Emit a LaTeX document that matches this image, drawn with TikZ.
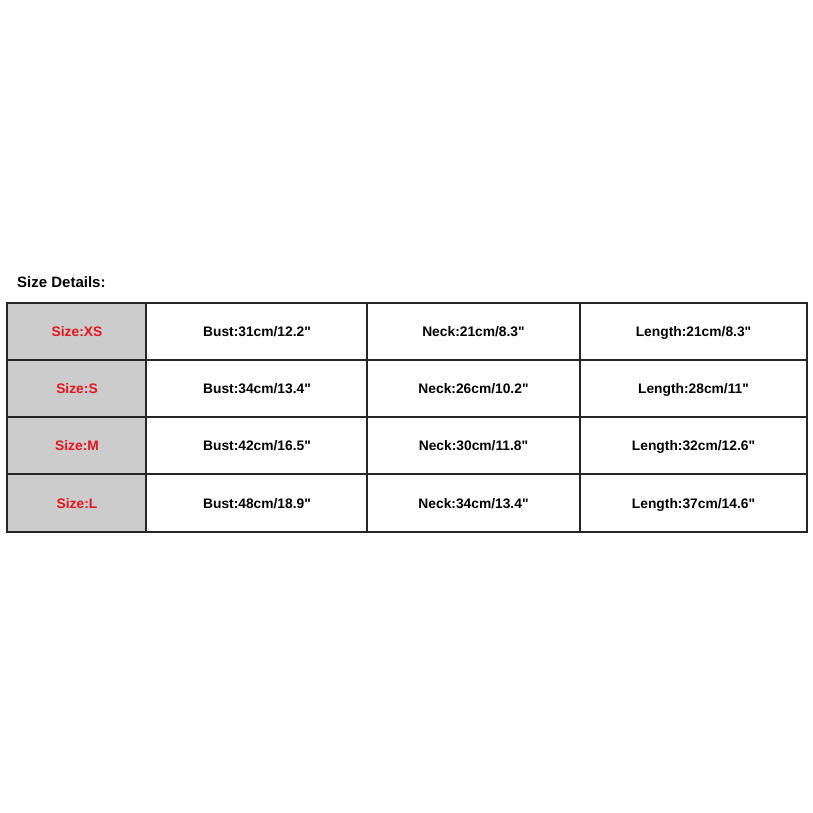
\documentclass[tikz,border=0pt]{standalone}
\usepackage{fontspec}
\setmainfont{Liberation Sans}
\definecolor{sizered}{HTML}{E8141C}
\definecolor{cellgray}{HTML}{CCCCCC}
\newcommand{\qd}{\textquotedbl}
\begin{document}
\begin{tikzpicture}[x=1pt,y=-1pt,
  cell/.style={font=\fontsize{13.8}{14}\selectfont\bfseries, text=black, inner sep=0pt, anchor=base},
  sizecell/.style={font=\fontsize{13.8}{14}\selectfont\bfseries, text=sizered, inner sep=0pt, anchor=base},
  grid/.style={draw=black!85, line width=1.1pt},
  frame/.style={draw=black!85, line width=2.2pt}]
\useasboundingbox (0,0) rectangle (813,813);
\fill[white] (0,0) rectangle (813,813);
\node[anchor=base west, font=\fontsize{15}{16}\selectfont\bfseries, inner sep=0pt] (title) at (17,287) {Size Details:};
% gray column
\fill[cellgray] (7,303) rectangle (146,532);
% grid lines
\foreach \yy in {360,417,474} \draw[grid] (7,\yy) -- (807,\yy);
\foreach \xx in {146,367,580} \draw[grid] (\xx,303) -- (\xx,532);
\draw[frame] (7,303) rectangle (807,532);
% text
\node[sizecell] (s1) at (77,336.5) {Size:XS};
\node[sizecell] (s2) at (77,393.5) {Size:S};
\node[sizecell] (s3) at (77,450.5) {Size:M};
\node[sizecell] (s4) at (77,508) {Size:L};
\node[cell] (b1) at (257,336.5) {Bust:31cm/12.2\qd};
\node[cell] (b2) at (257,393.5) {Bust:34cm/13.4\qd};
\node[cell] (b3) at (257,450.5) {Bust:42cm/16.5\qd};
\node[cell] (b4) at (257,508) {Bust:48cm/18.9\qd};
\node[cell] (n1) at (473.5,336.5) {Neck:21cm/8.3\qd};
\node[cell] (n2) at (473.5,393.5) {Neck:26cm/10.2\qd};
\node[cell] (n3) at (473.5,450.5) {Neck:30cm/11.8\qd};
\node[cell] (n4) at (473.5,508) {Neck:34cm/13.4\qd};
\node[cell] (l1) at (693.5,336.5) {Length:21cm/8.3\qd};
\node[cell] (l2) at (693.5,393.5) {Length:28cm/11\qd};
\node[cell] (l3) at (693.5,450.5) {Length:32cm/12.6\qd};
\node[cell] (l4) at (693.5,508) {Length:37cm/14.6\qd};
\end{tikzpicture}
\end{document}
